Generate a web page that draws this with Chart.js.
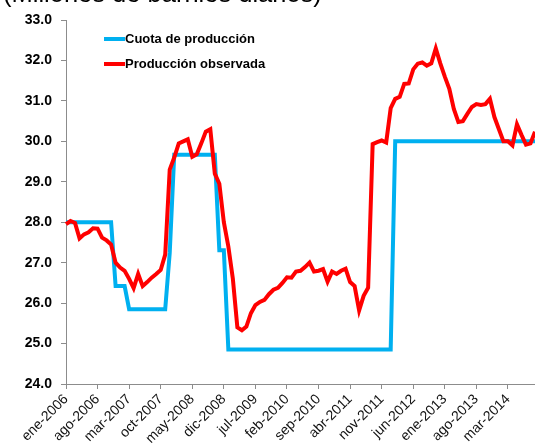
<!DOCTYPE html>
<html>
<head>
<meta charset="utf-8">
<script src="https://cdn.jsdelivr.net/npm/chart.js@4"></script>
<style>
  body { margin: 0; background: #fff; }
  #wrap { position: relative; width: 535px; height: 447px; overflow: hidden; }
  #title { position: absolute; left: 3px; top: -19px; font: 25.5px 'Liberation Sans', Arial, sans-serif; line-height: 25px; color: #000; white-space: nowrap; }
  canvas { position: absolute; left: 0; top: 0; }
</style>
</head>
<body>
<div id="wrap">
  <canvas id="oilChart" width="535" height="447"></canvas>
  <div id="title">(Millones de barriles diarios)</div>
</div>
<script>
// meses ene-2006 .. sep-2014
const monthNames = ['ene', 'feb', 'mar', 'abr', 'may', 'jun', 'jul', 'ago', 'sep', 'oct', 'nov', 'dic'];
const years = [2006, 2007, 2008, 2009, 2010, 2011, 2012, 2013, 2014];
const lastMonthIdx = 104;

const months = [];
years.forEach(y => monthNames.forEach(m => months.push(m + '-' + y)));
months.length = lastMonthIdx + 1;

const quota = [
  28.0, 28.0, 28.0, 28.0, 28.0, 28.0, 28.0, 28.0, 28.0, 28.0, 28.0,
  26.42, 26.42, 26.42,
  25.85, 25.85, 25.85, 25.85, 25.85, 25.85, 25.85, 25.85, 25.85,
  27.24,
  29.67, 29.67, 29.67, 29.67, 29.67, 29.67, 29.67, 29.67, 29.67, 29.67,
  27.31, 27.31,
  24.85, 24.85, 24.85, 24.85, 24.85, 24.85, 24.85, 24.85, 24.85, 24.85,
  24.85, 24.85, 24.85, 24.85, 24.85, 24.85, 24.85, 24.85, 24.85, 24.85,
  24.85, 24.85, 24.85, 24.85, 24.85, 24.85, 24.85, 24.85, 24.85, 24.85,
  24.85, 24.85, 24.85, 24.85, 24.85, 24.85, 24.85,
  30.0, 30.0, 30.0, 30.0, 30.0, 30.0, 30.0, 30.0, 30.0, 30.0,
  30.0, 30.0, 30.0, 30.0, 30.0, 30.0, 30.0, 30.0, 30.0, 30.0,
  30.0, 30.0, 30.0, 30.0, 30.0, 30.0, 30.0, 30.0, 30.0, 30.0,
  30.0, 30.0
];

const observed = [
  27.95, 28.03, 27.98, 27.6, 27.7, 27.75, 27.85, 27.84, 27.62, 27.55,
  27.45, 27.0, 26.88, 26.8, 26.6, 26.37, 26.72, 26.42, 26.52, 26.63,
  26.72, 26.82, 27.2, 29.3, 29.6, 29.95, 30.0, 30.05, 29.62, 29.68,
  29.95, 30.24, 30.3, 29.2, 28.95, 28.0, 27.4, 26.6, 25.4, 25.33,
  25.42, 25.75, 25.95, 26.03, 26.08, 26.22, 26.33, 26.38, 26.5, 26.64,
  26.63, 26.78, 26.8, 26.89, 27.0, 26.78, 26.8, 26.84, 26.53, 26.78,
  26.72, 26.8, 26.85, 26.52, 26.42, 25.82, 26.18, 26.38, 29.93, 29.98,
  30.02, 29.97, 30.82, 31.05, 31.1, 31.42, 31.43, 31.78, 31.92, 31.95,
  31.87, 31.93, 32.3, 31.93, 31.6, 31.3, 30.8, 30.48, 30.5, 30.68,
  30.85, 30.92, 30.9, 30.92, 31.05, 30.6, 30.3, 30.0, 30.0, 29.9,
  30.42, 30.16, 29.92, 29.95, 30.24
];

const FONT = "'Liberation Sans', Arial, sans-serif";
const axisGrey = '#8c8c8c';

// leyenda dentro del area del grafico
const insideLegend = {
  id: 'insideLegend',
  afterDraw(chart) {
    const ctx = chart.ctx;
    const area = chart.chartArea;
    ctx.save();
    ctx.font = 'bold 13px ' + FONT;
    ctx.textBaseline = 'middle';
    chart.data.datasets.forEach((ds, i) => {
      const y = area.top + 19 + i * 25;
      const x = area.left + 38;
      ctx.strokeStyle = ds.borderColor;
      ctx.lineWidth = 4;
      ctx.beginPath();
      ctx.moveTo(x, y);
      ctx.lineTo(x + 21, y);
      ctx.stroke();
      ctx.fillStyle = '#000';
      ctx.fillText(ds.label, x + 21, y);
    });
    ctx.restore();
  }
};

const ctx = document.getElementById('oilChart').getContext('2d');
new Chart(ctx, {
  type: 'line',
  data: {
    labels: months,
    datasets: [{
      label: 'Cuota de producción',
      data: quota,
      borderColor: '#00b0f0',
      borderWidth: 4,
      pointRadius: 0,
      tension: 0,
      order: 1
    }, {
      label: 'Producción observada',
      data: observed,
      borderColor: '#ff0000',
      borderWidth: 4,
      pointRadius: 0,
      tension: 0,
      order: 0
    }]
  },
  options: {
    responsive: false,
    animation: false,
    layout: { padding: { top: 20, right: 0, left: 0, bottom: 0 } },
    plugins: {
      legend: { display: false },
      tooltip: { enabled: false }
    },
    scales: {
      x: {
        type: 'category',
        offset: false,
        afterFit: s => { s.height = 63; },
        border: { display: true, color: axisGrey, width: 1 },
        grid: { display: true, drawOnChartArea: false, drawTicks: true, tickLength: 5, color: axisGrey },
        ticks: {
          autoSkip: false,
          maxRotation: 45,
          minRotation: 45,
          padding: 2,
          color: '#111',
          font: { family: FONT, size: 14 },
          callback: function (val, idx) {
            return idx % 7 === 0 ? this.getLabelForValue(val) : null;
          }
        }
      },
      y: {
        min: 24,
        max: 33,
        afterFit: s => { s.width = 66; },
        border: { display: true, color: axisGrey, width: 1 },
        grid: { display: true, drawOnChartArea: false, drawTicks: true, tickLength: 5, color: axisGrey },
        ticks: {
          stepSize: 1,
          padding: 9,
          color: '#000',
          font: { family: FONT, size: 14, weight: 'bold' },
          callback: v => v.toFixed(1)
        }
      }
    }
  },
  plugins: [insideLegend]
});
</script>
</body>
</html>
